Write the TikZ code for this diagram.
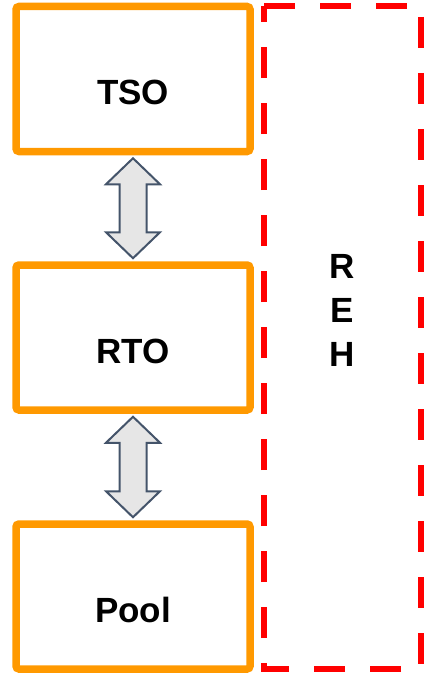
\documentclass[tikz,border=0pt]{standalone}
\usepackage{fontspec}
\setmainfont{Liberation Sans}
\usetikzlibrary{calc}
\definecolor{boxorange}{HTML}{FF9900}
\definecolor{dashred}{HTML}{FF0000}
\definecolor{arrowfill}{HTML}{E6E6E6}
\definecolor{arrowline}{HTML}{44546A}
\newcommand{\updownarr}[2]{%
  \coordinate (#1tip) at ($(#1.south)+(0,6.75)$);
  \coordinate (#2tip) at ($(#2.north)+(0,-6.75)$);
  \draw[dblarrow] (#1tip) -- ++(-27,26) -- ++(13.5,0) -- ($(#2tip)+(-13.5,-26)$) -- ++(-13.5,0)
    -- (#2tip) -- ++(27,-26) -- ++(-13.5,0) -- ($(#1tip)+(13.5,26)$) -- ++(13.5,0) -- cycle;}
\begin{document}
\begin{tikzpicture}[x=1pt,y=-1pt,
  box/.style={draw=boxorange, line width=7.5pt, rounded corners=3pt, minimum width=234pt,
    minimum height=145pt, outer sep=0pt, inner sep=0pt},
  lbl/.style={font=\fontsize{35}{44}\selectfont\bfseries, inner sep=0pt, text=black},
  dashbox/.style={draw=dashred, line width=6.5pt, dash pattern=on 31pt off 25pt},
  dblarrow/.style={draw=arrowline, fill=arrowfill, line width=2pt}]
\useasboundingbox (0,0) rectangle (426,677);
% boxes
\node[box] (tso) at (133,79) {};
\node[box] (rto) at (133,337.5) {};
\node[box] (pool) at (133,596.5) {};
\node[lbl, anchor=base] (tsotext) at ($(tso.center)+(0,25.5)$) {TSO};
\node[lbl, anchor=base] (rtotext) at ($(rto.center)+(0,25.5)$) {RTO};
\node[lbl, anchor=base] (pooltext) at ($(pool.center)+(0,25.5)$) {Pool};
% arrows
\updownarr{tso}{rto}
\updownarr{rto}{pool}
% REH dashed box
\node[minimum width=157pt, minimum height=663pt, outer sep=0pt, inner sep=0pt] (reh) at (342.5,337.5) {};
\draw[dashbox] (reh.north west) -- (reh.north east) -- (reh.south east) -- (reh.south west) -- cycle;
\node[lbl, align=center] (rehtext) at ($(reh.center)+(0,-27)$) {R\\E\\H};
\end{tikzpicture}
\end{document}
